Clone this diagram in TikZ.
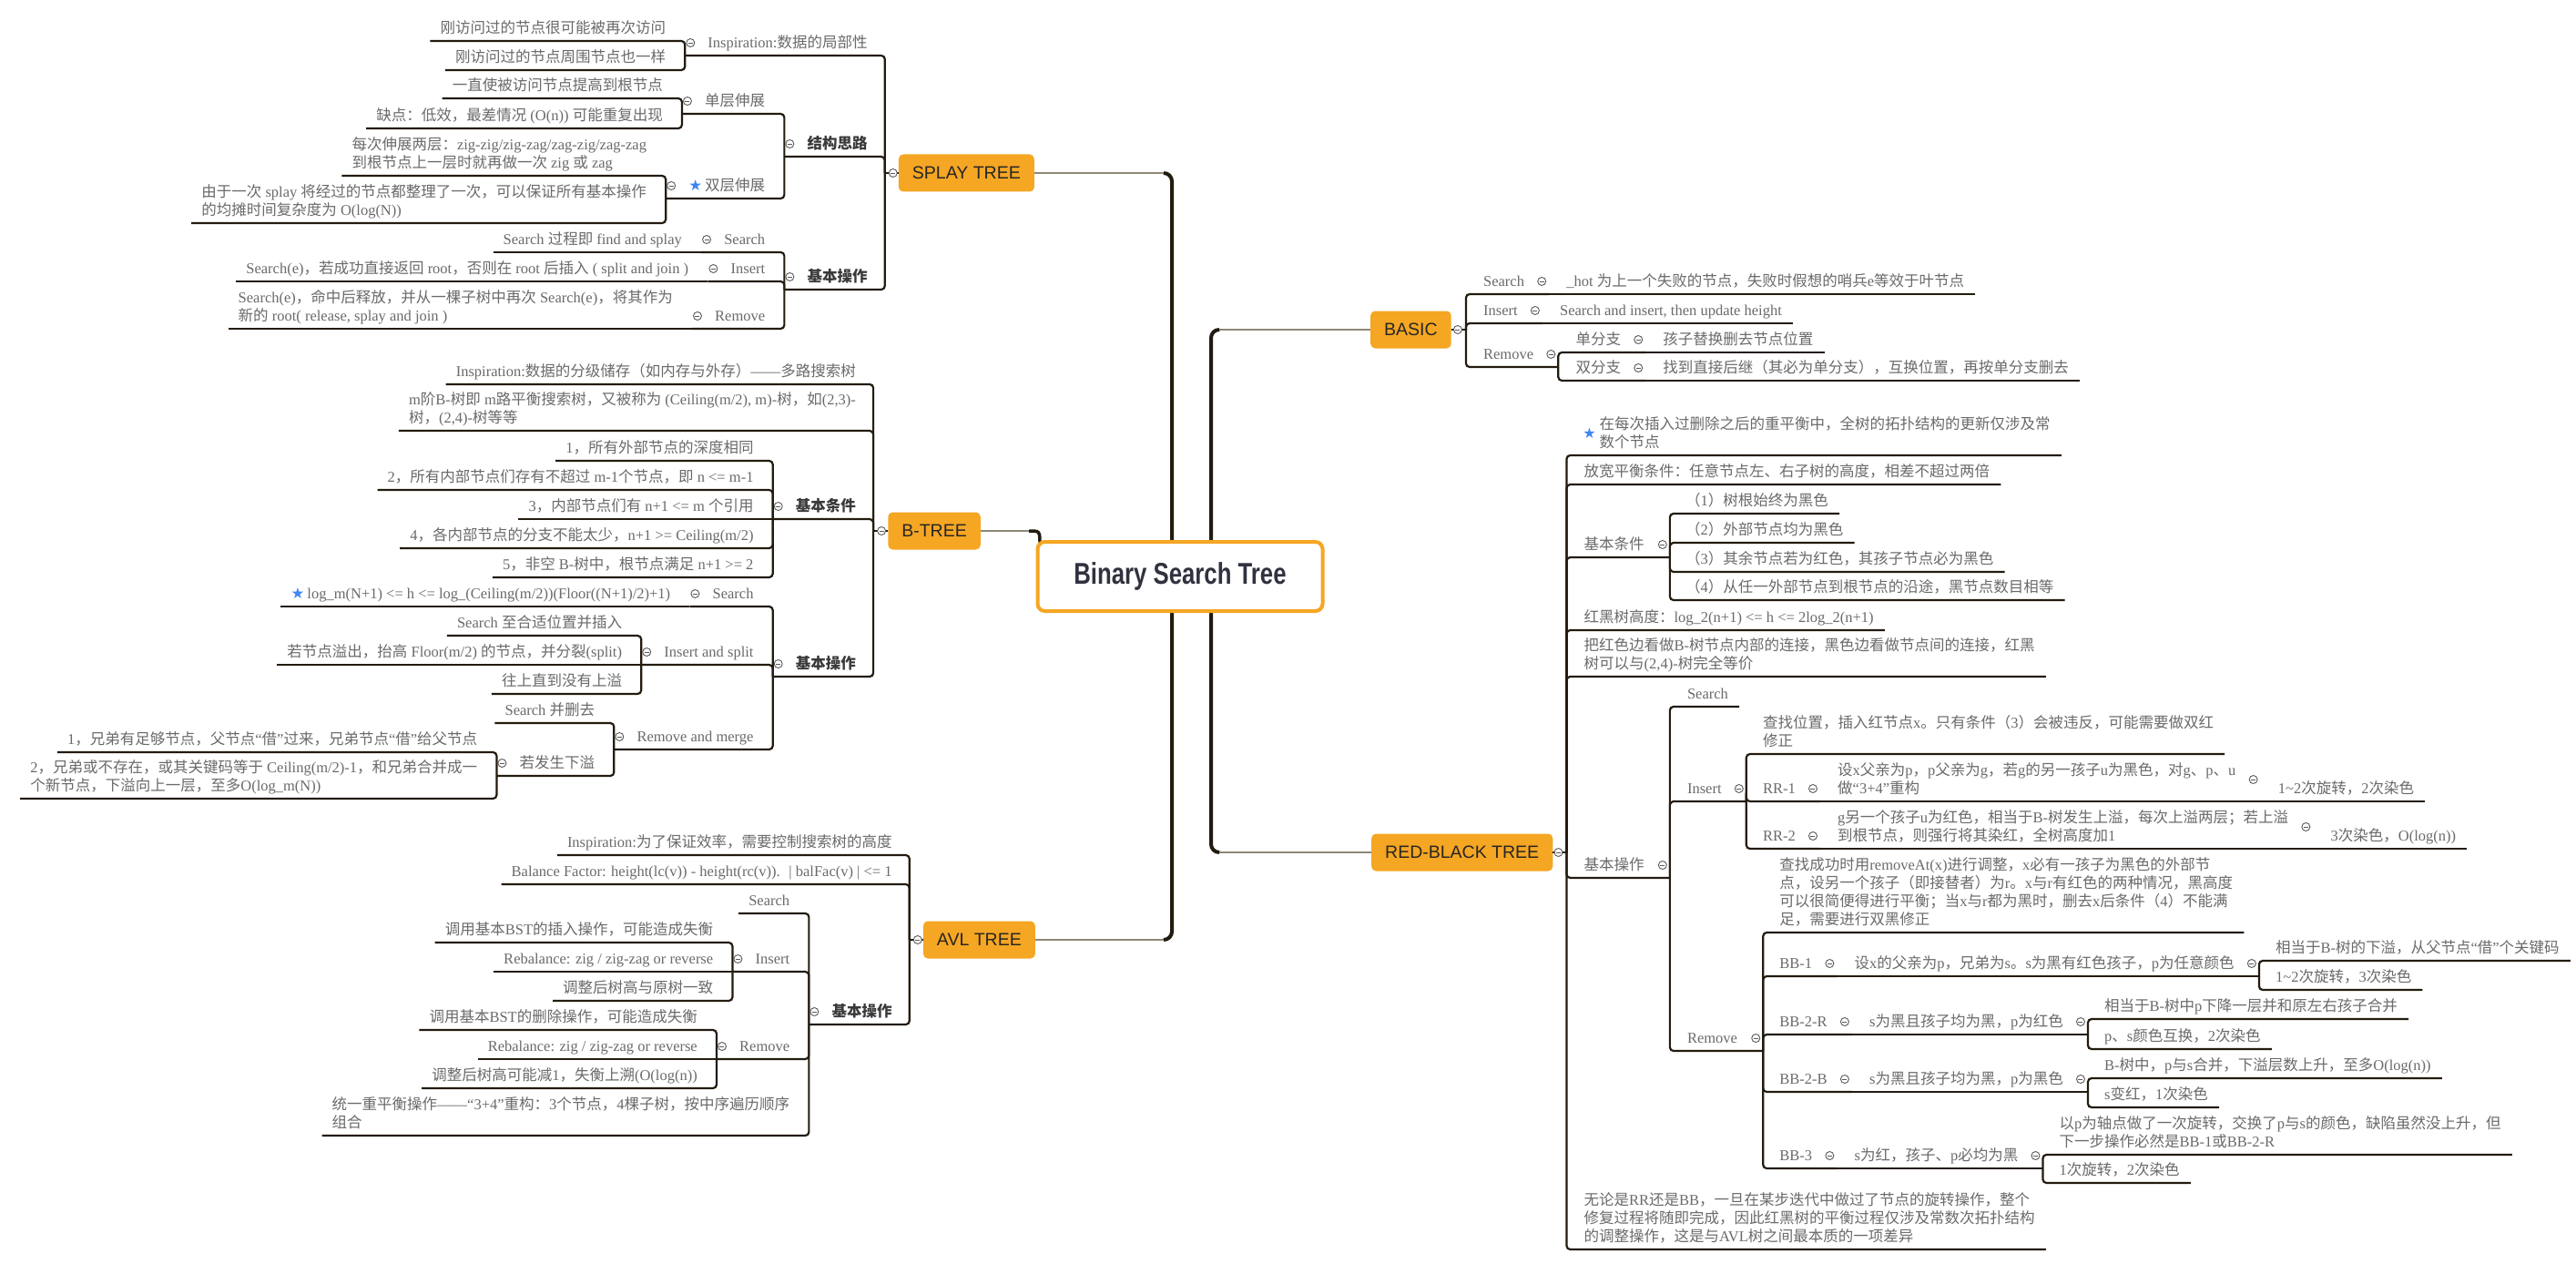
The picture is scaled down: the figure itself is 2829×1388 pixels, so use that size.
\documentclass[tikz,border=0pt]{standalone}
\usepackage{fontspec}
\usepackage{graphicx}
\setmainfont{Liberation Serif}
\newfontfamily\cjkfont{Noto Sans CJK SC}
\newfontfamily\latinfont{Liberation Serif}
\newfontfamily\boxfont{Liberation Sans}
\newfontfamily\symfont{DejaVu Sans}

% CJK characters switch to the CJK family by themselves
\XeTeXinterchartokenstate=1
\newXeTeXintercharclass\cjkclass
\newcount\cjkcount
\newcommand\cjkrange[2]{%
  \cjkcount=#1\relax
  \loop
    \XeTeXcharclass\cjkcount=\cjkclass
    \ifnum\cjkcount<#2\relax
    \advance\cjkcount by 1\relax
  \repeat}
\cjkrange{"3000}{"303F}
\cjkrange{"4E00}{"9FFF}
\cjkrange{"FF00}{"FFEF}
\XeTeXcharclass"2014=0 \XeTeXcharclass"2018=0 \XeTeXcharclass"2019=0
\XeTeXcharclass"201C=0 \XeTeXcharclass"201D=0 \XeTeXcharclass"2605=0
\XeTeXinterchartoks 0 \cjkclass = {\cjkfont}
\XeTeXinterchartoks 4095 \cjkclass = {\cjkfont}
\XeTeXinterchartoks \cjkclass 0 = {\latinfont}
\XeTeXinterchartoks \cjkclass 4095 = {\latinfont}

\definecolor{topicorange}{HTML}{F5A623}
\definecolor{rootnavy}{HTML}{30323F}
\definecolor{txtgray}{HTML}{6A6A6A}
\definecolor{headgray}{HTML}{3A3A3A}
\definecolor{linebrown}{HTML}{231B0F}
\definecolor{twiggray}{HTML}{8E8878}
\definecolor{foldgray}{HTML}{5A5A5A}
\definecolor{starblue}{HTML}{3F86F0}

% underline depth of every topic text
\newcommand\tdp{\rule[-8pt]{0pt}{8pt}}
\newcommand\bstar{{\symfont\color{starblue}★}\hspace{3pt}}

\begin{document}
\begin{tikzpicture}[x=1pt, y=-1pt,
    topic/.style={fill=topicorange, rounded corners=5pt, inner xsep=15pt, inner ysep=0pt, minimum height=41pt, text=black!85, font=\boxfont\fontsize{19.5}{20}\selectfont},
    rootbox/.style={draw=topicorange, line width=4pt, fill=white, rounded corners=8pt, minimum width=313pt, minimum height=76pt, inner sep=0pt, text=rootnavy, font=\boxfont\bfseries\fontsize{33}{33}\selectfont},
    leaf/.style={inner sep=0pt, align=left, text=txtgray, font=\fontsize{16.5}{20}\selectfont},
    strong/.style={leaf, text=headgray, font=\fontsize{16.5}{20}\selectfont\bfseries},
    link/.style={draw=linebrown, line width=2.2pt, rounded corners=4pt},
    twig/.style={draw=twiggray, line width=1.5pt},
    trunk/.style={draw=linebrown, line width=4pt, rounded corners=9pt},
    fold/.style={circle, draw=foldgray, fill=white, line width=0.9pt, minimum size=9pt, inner sep=0pt,
      path picture={\draw[foldgray, line width=0.9pt] ([xshift=2pt]path picture bounding box.west) -- ([xshift=-2pt]path picture bounding box.east);}}
  ]
  \fill[white] (0,0) rectangle (2829,1388);
  \useasboundingbox (0,0) rectangle (2829,1388);

  % Main topics around the root
  \node[topic, anchor=east] (splay) at (1136,190) {SPLAY TREE};
  \node[topic, anchor=east] (btree) at (1077,583) {B-TREE};
  \node[topic, anchor=east] (avl) at (1137,1032) {AVL TREE};
  \node[topic, anchor=west] (basic) at (1505,362) {BASIC};
  \node[topic, anchor=west] (rbtree) at (1506,936) {RED-BLACK TREE};
  \coordinate (splay-b) at ([xshift=-15pt]splay.west);
  \coordinate (btree-b) at ([xshift=-16pt]btree.west);
  \coordinate (avl-b) at ([xshift=-15pt]avl.west);
  \coordinate (basic-b) at ([xshift=16pt]basic.east);
  \coordinate (rbtree-b) at ([xshift=15pt]rbtree.east);

  % Trunks from the root to the main topics
  \coordinate (lbus) at (1287,0);
  \coordinate (rbus) at (1330,0);
  \coordinate (bt-hook) at (1130,583);
  \draw[twig] (splay.east) -- ([xshift=-9pt]lbus |- splay.east);
  \draw[twig] (avl.east) -- ([xshift=-9pt]lbus |- avl.east);
  \draw[trunk] ([xshift=-9pt]lbus |- splay.east) -| (lbus |- avl.east) -- ([xshift=-9pt]lbus |- avl.east);
  \draw[twig] (basic.west) -- ([xshift=9pt]rbus |- basic.west);
  \draw[twig] (rbtree.west) -- ([xshift=9pt]rbus |- rbtree.west);
  \draw[trunk] ([xshift=9pt]rbus |- basic.west) -| (rbus |- rbtree.west) -- ([xshift=9pt]rbus |- rbtree.west);
  \draw[twig] (btree.east) -- (bt-hook);
  \draw[draw=linebrown, line width=3.5pt] (bt-hook) .. controls (1142,583) .. (1142,598);

  % The root
  \node[rootbox] (bst) at (1296,633) {\scalebox{0.78}[1]{Binary Search Tree}};

  % SPLAY TREE
  \node[leaf, anchor=south east] (sp-insp) at ([xshift=-19pt]splay-b |- 0,61) {Inspiration:数据的局部性\tdp};
  \coordinate (sp-insp-b) at ([xshift=-25pt]sp-insp.south west);
  \node[leaf, anchor=south east] (sp-insp-1) at ([xshift=-21pt]sp-insp-b |- 0,45) {刚访问过的节点很可能被再次访问\tdp};
  \node[leaf, anchor=south east] (sp-insp-2) at ([xshift=-21pt]sp-insp-b |- 0,77) {刚访问过的节点周围节点也一样\tdp};
  \node[strong, anchor=south east] (sp-idea) at ([xshift=-19pt]splay-b |- 0,172) {结构思路\tdp};
  \coordinate (sp-idea-b) at ([xshift=-25pt]sp-idea.south west);
  \node[leaf, anchor=south east] (sp-zig) at ([xshift=-21pt]sp-idea-b |- 0,125) {单层伸展\tdp};
  \coordinate (sp-zig-b) at ([xshift=-25pt]sp-zig.south west);
  \node[leaf, anchor=south east] (sp-zig-1) at ([xshift=-21pt]sp-zig-b |- 0,108) {一直使被访问节点提高到根节点\tdp};
  \node[leaf, anchor=south east] (sp-zig-2) at ([xshift=-21pt]sp-zig-b |- 0,141) {缺点：低效，最差情况 (O(n)) 可能重复出现\tdp};
  \node[leaf, anchor=south east] (sp-zz) at ([xshift=-21pt]sp-idea-b |- 0,218) {\bstar 双层伸展\tdp};
  \coordinate (sp-zz-b) at ([xshift=-25pt]sp-zz.south west);
  \node[leaf, anchor=south east] (sp-zz-1) at ([xshift=-21pt]sp-zz-b |- 0,193) {每次伸展两层：zig-zig/zig-zag/zag-zig/zag-zag\\到根节点上一层时就再做一次 zig 或 zag\tdp};
  \node[leaf, anchor=south east] (sp-zz-2) at ([xshift=-21pt]sp-zz-b |- 0,245) {由于一次 splay 将经过的节点都整理了一次，可以保证所有基本操作\\的均摊时间复杂度为 O(log(N))\tdp};
  \node[strong, anchor=south east] (sp-ops) at ([xshift=-19pt]splay-b |- 0,318) {基本操作\tdp};
  \coordinate (sp-ops-b) at ([xshift=-25pt]sp-ops.south west);
  \node[leaf, anchor=south east] (sp-srch) at ([xshift=-21pt]sp-ops-b |- 0,277) {Search\tdp};
  \coordinate (sp-srch-b) at ([xshift=-25pt]sp-srch.south west);
  \node[leaf, anchor=south east] (sp-srch-1) at ([xshift=-21pt]sp-srch-b) {Search 过程即 find and splay\tdp};
  \node[leaf, anchor=south east] (sp-ins) at ([xshift=-21pt]sp-ops-b |- 0,309) {Insert\tdp};
  \coordinate (sp-ins-b) at ([xshift=-25pt]sp-ins.south west);
  \node[leaf, anchor=south east] (sp-ins-1) at ([xshift=-21pt]sp-ins-b) {Search(e)，若成功直接返回 root，否则在 root 后插入 ( split and join )\tdp};
  \node[leaf, anchor=south east] (sp-rem) at ([xshift=-21pt]sp-ops-b |- 0,361) {Remove\tdp};
  \coordinate (sp-rem-b) at ([xshift=-25pt]sp-rem.south west);
  \node[leaf, anchor=south east] (sp-rem-1) at ([xshift=-21pt]sp-rem-b) {Search(e)，命中后释放，并从一棵子树中再次 Search(e)，将其作为\\新的 root( release, splay and join )\tdp};

  % B-TREE
  \node[leaf, anchor=south east] (bt-insp) at ([xshift=-19pt]btree-b |- 0,422) {Inspiration:数据的分级储存（如内存与外存）——多路搜索树\tdp};
  \node[leaf, anchor=south east] (bt-def) at ([xshift=-19pt]btree-b |- 0,473) {m阶B-树即 m路平衡搜索树，又被称为 (Ceiling(m/2), m)-树，如(2,3)-\\树，(2,4)-树等等\tdp};
  \node[strong, anchor=south east] (bt-cond) at ([xshift=-19pt]btree-b |- 0,570) {基本条件\tdp};
  \coordinate (bt-cond-b) at ([xshift=-25pt]bt-cond.south west);
  \node[leaf, anchor=south east] (bt-cond-1) at ([xshift=-21pt]bt-cond-b |- 0,506) {1，所有外部节点的深度相同\tdp};
  \node[leaf, anchor=south east] (bt-cond-2) at ([xshift=-21pt]bt-cond-b |- 0,538) {2，所有内部节点们存有不超过 m-1个节点，即 n <= m-1\tdp};
  \node[leaf, anchor=south east] (bt-cond-3) at ([xshift=-21pt]bt-cond-b |- 0,570) {3，内部节点们有 n+1 <= m 个引用\tdp};
  \node[leaf, anchor=south east] (bt-cond-4) at ([xshift=-21pt]bt-cond-b |- 0,602) {4，各内部节点的分支不能太少，n+1 >= Ceiling(m/2)\tdp};
  \node[leaf, anchor=south east] (bt-cond-5) at ([xshift=-21pt]bt-cond-b |- 0,634) {5，非空 B-树中，根节点满足 n+1 >= 2\tdp};
  \node[strong, anchor=south east] (bt-ops) at ([xshift=-19pt]btree-b |- 0,743) {基本操作\tdp};
  \coordinate (bt-ops-b) at ([xshift=-25pt]bt-ops.south west);
  \node[leaf, anchor=south east] (bt-srch) at ([xshift=-21pt]bt-ops-b |- 0,666) {Search\tdp};
  \coordinate (bt-srch-b) at ([xshift=-25pt]bt-srch.south west);
  \node[leaf, anchor=south east] (bt-srch-1) at ([xshift=-21pt]bt-srch-b) {\bstar log\_m(N+1) <= h <= log\_(Ceiling(m/2))(Floor((N+1)/2)+1)\tdp};
  \node[leaf, anchor=south east] (bt-ins) at ([xshift=-21pt]bt-ops-b |- 0,730) {Insert and split\tdp};
  \coordinate (bt-ins-b) at ([xshift=-25pt]bt-ins.south west);
  \node[leaf, anchor=south east] (bt-ins-1) at ([xshift=-21pt]bt-ins-b |- 0,698) {Search 至合适位置并插入\tdp};
  \node[leaf, anchor=south east] (bt-ins-2) at ([xshift=-21pt]bt-ins-b |- 0,730) {若节点溢出，抬高 Floor(m/2) 的节点，并分裂(split)\tdp};
  \node[leaf, anchor=south east] (bt-ins-3) at ([xshift=-21pt]bt-ins-b |- 0,762) {往上直到没有上溢\tdp};
  \node[leaf, anchor=south east] (bt-rem) at ([xshift=-21pt]bt-ops-b |- 0,823) {Remove and merge\tdp};
  \coordinate (bt-rem-b) at ([xshift=-25pt]bt-rem.south west);
  \node[leaf, anchor=south east] (bt-rem-1) at ([xshift=-21pt]bt-rem-b |- 0,794) {Search 并删去\tdp};
  \node[leaf, anchor=south east] (bt-under) at ([xshift=-21pt]bt-rem-b |- 0,852) {若发生下溢\tdp};
  \coordinate (bt-under-b) at ([xshift=-25pt]bt-under.south west);
  \node[leaf, anchor=south east] (bt-under-1) at ([xshift=-21pt]bt-under-b |- 0,826) {1，兄弟有足够节点，父节点“借”过来，兄弟节点“借”给父节点\tdp};
  \node[leaf, anchor=south east] (bt-under-2) at ([xshift=-21pt]bt-under-b |- 0,877) {2，兄弟或不存在，或其关键码等于 Ceiling(m/2)-1，和兄弟合并成一\\个新节点，下溢向上一层，至多O(log\_m(N))\tdp};

  % AVL TREE
  \node[leaf, anchor=south east] (av-insp) at ([xshift=-19pt]avl-b |- 0,939) {Inspiration:为了保证效率，需要控制搜索树的高度\tdp};
  \node[leaf, anchor=south east] (av-bf) at ([xshift=-19pt]avl-b |- 0,971) {Balance Factor: height(lc(v)) - height(rc(v)).~ | balFac(v) | <= 1\tdp};
  \node[strong, anchor=south east] (av-ops) at ([xshift=-19pt]avl-b |- 0,1125) {基本操作\tdp};
  \coordinate (av-ops-b) at ([xshift=-25pt]av-ops.south west);
  \node[leaf, anchor=south east] (av-srch) at ([xshift=-21pt]av-ops-b |- 0,1003) {Search\tdp};
  \node[leaf, anchor=south east] (av-ins) at ([xshift=-21pt]av-ops-b |- 0,1067) {Insert\tdp};
  \coordinate (av-ins-b) at ([xshift=-25pt]av-ins.south west);
  \node[leaf, anchor=south east] (av-ins-1) at ([xshift=-21pt]av-ins-b |- 0,1035) {调用基本BST的插入操作，可能造成失衡\tdp};
  \node[leaf, anchor=south east] (av-ins-2) at ([xshift=-21pt]av-ins-b |- 0,1067) {Rebalance: zig / zig-zag or reverse\tdp};
  \node[leaf, anchor=south east] (av-ins-3) at ([xshift=-21pt]av-ins-b |- 0,1099) {调整后树高与原树一致\tdp};
  \node[leaf, anchor=south east] (av-rem) at ([xshift=-21pt]av-ops-b |- 0,1163) {Remove\tdp};
  \coordinate (av-rem-b) at ([xshift=-25pt]av-rem.south west);
  \node[leaf, anchor=south east] (av-rem-1) at ([xshift=-21pt]av-rem-b |- 0,1131) {调用基本BST的删除操作，可能造成失衡\tdp};
  \node[leaf, anchor=south east] (av-rem-2) at ([xshift=-21pt]av-rem-b |- 0,1163) {Rebalance: zig / zig-zag or reverse\tdp};
  \node[leaf, anchor=south east] (av-rem-3) at ([xshift=-21pt]av-rem-b |- 0,1195) {调整后树高可能减1，失衡上溯(O(log(n))\tdp};
  \node[leaf, anchor=south east] (av-34) at ([xshift=-21pt]av-ops-b |- 0,1247) {统一重平衡操作——“3+4”重构：3个节点，4棵子树，按中序遍历顺序\\组合\tdp};

  % BASIC
  \node[leaf, anchor=south west] (ba-srch) at ([xshift=19pt]basic-b |- 0,323) {Search\tdp};
  \coordinate (ba-srch-b) at ([xshift=27pt]ba-srch.south east);
  \node[leaf, anchor=south west] (ba-srch-1) at ([xshift=19pt]ba-srch-b) {\_hot 为上一个失败的节点，失败时假想的哨兵e等效于叶节点\tdp};
  \node[leaf, anchor=south west] (ba-ins) at ([xshift=19pt]basic-b |- 0,355) {Insert\tdp};
  \coordinate (ba-ins-b) at ([xshift=27pt]ba-ins.south east);
  \node[leaf, anchor=south west] (ba-ins-1) at ([xshift=19pt]ba-ins-b) {Search and insert, then update height\tdp};
  \node[leaf, anchor=south west] (ba-rem) at ([xshift=19pt]basic-b |- 0,403) {Remove\tdp};
  \coordinate (ba-rem-b) at ([xshift=27pt]ba-rem.south east);
  \node[leaf, anchor=south west] (ba-one) at ([xshift=19pt]ba-rem-b |- 0,387) {单分支\tdp};
  \coordinate (ba-one-b) at ([xshift=27pt]ba-one.south east);
  \node[leaf, anchor=south west] (ba-one-1) at ([xshift=19pt]ba-one-b) {孩子替换删去节点位置\tdp};
  \node[leaf, anchor=south west] (ba-two) at ([xshift=19pt]ba-rem-b |- 0,418) {双分支\tdp};
  \coordinate (ba-two-b) at ([xshift=27pt]ba-two.south east);
  \node[leaf, anchor=south west] (ba-two-1) at ([xshift=19pt]ba-two-b) {找到直接后继（其必为单分支），互换位置，再按单分支删去\tdp};

  % RED-BLACK TREE
  \node[leaf, anchor=south west] (rb-note) at ([xshift=36pt]rbtree-b |- 0,500) {在每次插入过删除之后的重平衡中，全树的拓扑结构的更新仅涉及常\\数个节点\tdp};
  \node[text=starblue, inner sep=0pt, font=\symfont\fontsize{16}{16}\selectfont] (rb-star) at ([xshift=25pt,yshift=24pt]rbtree-b |- rb-note.south) {★};
  \node[leaf, anchor=south west] (rb-relax) at ([xshift=19pt]rbtree-b |- 0,532) {放宽平衡条件：任意节点左、右子树的高度，相差不超过两倍\tdp};
  \node[leaf, anchor=south west] (rb-cond) at ([xshift=19pt]rbtree-b |- 0,612) {基本条件\tdp};
  \coordinate (rb-cond-b) at ([xshift=28pt]rb-cond.south east);
  \node[leaf, anchor=south west] (rb-cond-1) at ([xshift=17pt]rb-cond-b |- 0,564) {（1）树根始终为黑色\tdp};
  \node[leaf, anchor=south west] (rb-cond-2) at ([xshift=17pt]rb-cond-b |- 0,596) {（2）外部节点均为黑色\tdp};
  \node[leaf, anchor=south west] (rb-cond-3) at ([xshift=17pt]rb-cond-b |- 0,628) {（3）其余节点若为红色，其孩子节点必为黑色\tdp};
  \node[leaf, anchor=south west] (rb-cond-4) at ([xshift=17pt]rb-cond-b |- 0,659) {（4）从任一外部节点到根节点的沿途，黑节点数目相等\tdp};
  \node[leaf, anchor=south west] (rb-h) at ([xshift=19pt]rbtree-b |- 0,692) {红黑树高度：log\_2(n+1) <= h <= 2log\_2(n+1)\tdp};
  \node[leaf, anchor=south west] (rb-b24) at ([xshift=19pt]rbtree-b |- 0,743) {把红色边看做B-树节点内部的连接，黑色边看做节点间的连接，红黑\\树可以与(2,4)-树完全等价\tdp};
  \node[leaf, anchor=south west] (rb-ops) at ([xshift=19pt]rbtree-b |- 0,964) {基本操作\tdp};
  \coordinate (rb-ops-b) at ([xshift=28pt]rb-ops.south east);
  \node[leaf, anchor=south west] (rb-srch) at ([xshift=19pt]rb-ops-b |- 0,776) {Search\tdp};
  \node[leaf, anchor=south west] (rb-ins) at ([xshift=19pt]rb-ops-b |- 0,880) {Insert\tdp};
  \coordinate (rb-ins-b) at ([xshift=27pt]rb-ins.south east);
  \node[leaf, anchor=south west] (rb-ins-1) at ([xshift=18pt]rb-ins-b |- 0,828) {查找位置，插入红节点x。只有条件（3）会被违反，可能需要做双红\\修正\tdp};
  \node[leaf, anchor=south west] (rb-rr1) at ([xshift=18pt]rb-ins-b |- 0,880) {RR-1\tdp};
  \coordinate (rb-rr1-b) at ([xshift=27pt]rb-rr1.south east);
  \node[leaf, anchor=south west] (rb-rr1-1) at ([xshift=19pt]rb-rr1-b) {设x父亲为p，p父亲为g，若g的另一孩子u为黑色，对g、p、u\\做“3+4”重构\tdp};
  \coordinate (rb-rr1-1-b) at ([xshift=27pt]rb-rr1-1.south east);
  \node[leaf, anchor=south west] (rb-rr1-2) at ([xshift=19pt]rb-rr1-1-b) {1\textasciitilde 2次旋转，2次染色\tdp};
  \node[leaf, anchor=south west] (rb-rr2) at ([xshift=18pt]rb-ins-b |- 0,932) {RR-2\tdp};
  \coordinate (rb-rr2-b) at ([xshift=27pt]rb-rr2.south east);
  \node[leaf, anchor=south west] (rb-rr2-1) at ([xshift=19pt]rb-rr2-b) {g另一个孩子u为红色，相当于B-树发生上溢，每次上溢两层；若上溢\\到根节点，则强行将其染红，全树高度加1\tdp};
  \coordinate (rb-rr2-1-b) at ([xshift=27pt]rb-rr2-1.south east);
  \node[leaf, anchor=south west] (rb-rr2-2) at ([xshift=19pt]rb-rr2-1-b) {3次染色，O(log(n))\tdp};
  \node[leaf, anchor=south west] (rb-rem) at ([xshift=19pt]rb-ops-b |- 0,1154) {Remove\tdp};
  \coordinate (rb-rem-b) at ([xshift=28pt]rb-rem.south east);
  \node[leaf, anchor=south west] (rb-rem-1) at ([xshift=18pt]rb-rem-b |- 0,1024) {查找成功时用removeAt(x)进行调整，x必有一孩子为黑色的外部节\\点，设另一个孩子（即接替者）为r。x与r有红色的两种情况，黑高度\\可以很简便得进行平衡；当x与r都为黑时，删去x后条件（4）不能满\\足，需要进行双黑修正\tdp};
  \node[leaf, anchor=south west] (rb-bb1) at ([xshift=18pt]rb-rem-b |- 0,1072) {BB-1\tdp};
  \coordinate (rb-bb1-b) at ([xshift=27pt]rb-bb1.south east);
  \node[leaf, anchor=south west] (rb-bb1-1) at ([xshift=19pt]rb-bb1-b) {设x的父亲为p，兄弟为s。s为黑有红色孩子，p为任意颜色\tdp};
  \coordinate (rb-bb1-1-b) at ([xshift=27pt]rb-bb1-1.south east);
  \node[leaf, anchor=south west] (rb-bb1-up) at ([xshift=18pt]rb-bb1-1-b |- 0,1055) {相当于B-树的下溢，从父节点“借”个关键码\tdp};
  \node[leaf, anchor=south west] (rb-bb1-dn) at ([xshift=18pt]rb-bb1-1-b |- 0,1087) {1\textasciitilde 2次旋转，3次染色\tdp};
  \node[leaf, anchor=south west] (rb-bb2r) at ([xshift=18pt]rb-rem-b |- 0,1136) {BB-2-R\tdp};
  \coordinate (rb-bb2r-b) at ([xshift=27pt]rb-bb2r.south east);
  \node[leaf, anchor=south west] (rb-bb2r-1) at ([xshift=19pt]rb-bb2r-b) {s为黑且孩子均为黑，p为红色\tdp};
  \coordinate (rb-bb2r-1-b) at ([xshift=27pt]rb-bb2r-1.south east);
  \node[leaf, anchor=south west] (rb-bb2r-up) at ([xshift=18pt]rb-bb2r-1-b |- 0,1119) {相当于B-树中p下降一层并和原左右孩子合并\tdp};
  \node[leaf, anchor=south west] (rb-bb2r-dn) at ([xshift=18pt]rb-bb2r-1-b |- 0,1152) {p、s颜色互换，2次染色\tdp};
  \node[leaf, anchor=south west] (rb-bb2b) at ([xshift=18pt]rb-rem-b |- 0,1199) {BB-2-B\tdp};
  \coordinate (rb-bb2b-b) at ([xshift=27pt]rb-bb2b.south east);
  \node[leaf, anchor=south west] (rb-bb2b-1) at ([xshift=19pt]rb-bb2b-b) {s为黑且孩子均为黑，p为黑色\tdp};
  \coordinate (rb-bb2b-1-b) at ([xshift=27pt]rb-bb2b-1.south east);
  \node[leaf, anchor=south west] (rb-bb2b-up) at ([xshift=18pt]rb-bb2b-1-b |- 0,1184) {B-树中，p与s合并，下溢层数上升，至多O(log(n))\tdp};
  \node[leaf, anchor=south west] (rb-bb2b-dn) at ([xshift=18pt]rb-bb2b-1-b |- 0,1216) {s变红，1次染色\tdp};
  \node[leaf, anchor=south west] (rb-bb3) at ([xshift=18pt]rb-rem-b |- 0,1283) {BB-3\tdp};
  \coordinate (rb-bb3-b) at ([xshift=27pt]rb-bb3.south east);
  \node[leaf, anchor=south west] (rb-bb3-1) at ([xshift=19pt]rb-bb3-b) {s为红，孩子、p必均为黑\tdp};
  \coordinate (rb-bb3-1-b) at ([xshift=27pt]rb-bb3-1.south east);
  \node[leaf, anchor=south west] (rb-bb3-up) at ([xshift=18pt]rb-bb3-1-b |- 0,1268) {以p为轴点做了一次旋转，交换了p与s的颜色，缺陷虽然没上升，但\\下一步操作必然是BB-1或BB-2-R\tdp};
  \node[leaf, anchor=south west] (rb-bb3-dn) at ([xshift=18pt]rb-bb3-1-b |- 0,1299) {1次旋转，2次染色\tdp};
  \node[leaf, anchor=south west] (rb-last) at ([xshift=19pt]rbtree-b |- 0,1372) {无论是RR还是BB，一旦在某步迭代中做过了节点的旋转操作，整个\\修复过程将随即完成，因此红黑树的平衡过程仅涉及常数次拓扑结构\\的调整操作，这是与AVL树之间最本质的一项差异\tdp};

  % Underlines and brackets, left side
  \foreach \c/\p in {sp-insp-1/sp-insp, sp-insp-2/sp-insp, sp-zig-1/sp-zig, sp-zig-2/sp-zig, sp-zz-1/sp-zz, sp-zz-2/sp-zz,
      bt-insp/btree, bt-def/btree, bt-cond-1/bt-cond, bt-cond-2/bt-cond, bt-cond-4/bt-cond, bt-cond-5/bt-cond,
      bt-ins-1/bt-ins, bt-ins-3/bt-ins, bt-rem-1/bt-rem, bt-under-1/bt-under, bt-under-2/bt-under,
      av-insp/avl, av-bf/avl, av-srch/av-ops, av-34/av-ops, av-ins-1/av-ins, av-ins-3/av-ins, av-rem-1/av-rem, av-rem-3/av-rem}
    \draw[link] ([xshift=-11pt]\c.south west) -- (\c.south -| \p-b) -- (\p-b);
  \foreach \c/\p in {sp-srch-1/sp-srch, sp-ins-1/sp-ins, sp-rem-1/sp-rem, bt-cond-3/bt-cond, bt-srch-1/bt-srch,
      bt-ins-2/bt-ins, av-ins-2/av-ins, av-rem-2/av-rem}
    \draw[link] ([xshift=-11pt]\c.south west) -- (\p-b);
  \foreach \c/\p in {sp-insp/splay, sp-idea/splay, sp-ops/splay, sp-zig/sp-idea, sp-zz/sp-idea, sp-srch/sp-ops, sp-ins/sp-ops,
      sp-rem/sp-ops, bt-cond/btree, bt-ops/btree, bt-srch/bt-ops, bt-ins/bt-ops, bt-rem/bt-ops, bt-under/bt-rem,
      av-ops/avl, av-ins/av-ops, av-rem/av-ops}
    \draw[link] (\c-b) -- (\c.south -| \p-b) -- (\p-b);

  % Underlines and brackets, right side
  \foreach \c/\p in {rb-note/rbtree, rb-relax/rbtree, rb-h/rbtree, rb-b24/rbtree, rb-last/rbtree,
      rb-cond-1/rb-cond, rb-cond-2/rb-cond, rb-cond-3/rb-cond, rb-cond-4/rb-cond, rb-srch/rb-ops, rb-ins-1/rb-ins,
      rb-rem-1/rb-rem, rb-bb1-up/rb-bb1-1, rb-bb1-dn/rb-bb1-1, rb-bb2r-up/rb-bb2r-1, rb-bb2r-dn/rb-bb2r-1,
      rb-bb2b-up/rb-bb2b-1, rb-bb2b-dn/rb-bb2b-1, rb-bb3-up/rb-bb3-1, rb-bb3-dn/rb-bb3-1}
    \draw[link] ([xshift=12pt]\c.south east) -- (\c.south -| \p-b) -- (\p-b);
  \foreach \c/\p in {ba-srch-1/ba-srch, ba-ins-1/ba-ins, ba-one-1/ba-one, ba-two-1/ba-two, rb-rr1-2/rb-rr1-1, rb-rr2-2/rb-rr2-1}
    \draw[link] ([xshift=12pt]\c.south east) -- (\p-b);
  \foreach \c/\p in {ba-srch/basic, ba-ins/basic, ba-rem/basic, ba-one/ba-rem, ba-two/ba-rem, rb-cond/rbtree, rb-ops/rbtree,
      rb-ins/rb-ops, rb-rem/rb-ops, rb-rr1/rb-ins, rb-rr2/rb-ins, rb-bb1/rb-rem, rb-bb2r/rb-rem, rb-bb2b/rb-rem, rb-bb3/rb-rem}
    \draw[link] (\c-b) -- (\c.south -| \p-b) -- (\p-b);
  \foreach \c/\p in {rb-rr1-1/rb-rr1, rb-rr2-1/rb-rr2, rb-bb1-1/rb-bb1, rb-bb2r-1/rb-bb2r, rb-bb2b-1/rb-bb2b, rb-bb3-1/rb-bb3}
    \draw[link] (\c-b) -- (\p-b);
  \foreach \p in {splay, btree, avl} \draw[link] (\p-b) -- (\p.west);
  \foreach \p in {basic, rbtree} \draw[link] (\p-b) -- (\p.east);

  % Collapse markers
  \foreach \p in {splay, btree, avl} \node[fold] (\p-f) at ([xshift=9pt]\p-b) {};
  \foreach \p in {basic, rbtree} \node[fold] (\p-f) at ([xshift=-9pt]\p-b) {};
  \foreach \p in {sp-insp, sp-idea, sp-zig, sp-zz, sp-ops, sp-srch, sp-ins, sp-rem, bt-cond, bt-ops, bt-srch, bt-ins,
      bt-rem, bt-under, av-ops, av-ins, av-rem}
    \node[fold] (\p-f) at ([xshift=6pt,yshift=14pt]\p-b) {};
  \foreach \p in {ba-srch, ba-ins, ba-rem, ba-one, ba-two, rb-cond, rb-ops, rb-ins, rb-rem, rb-rr1, rb-rr2,
      rb-bb1, rb-bb1-1, rb-bb2r, rb-bb2r-1, rb-bb2b, rb-bb2b-1, rb-bb3, rb-bb3-1}
    \node[fold] (\p-f) at ([xshift=-8pt,yshift=14pt]\p-b) {};
  \foreach \p in {rb-rr1-1, rb-rr2-1} \node[fold] (\p-f) at ([xshift=-8pt,yshift=24pt]\p-b) {};

\end{tikzpicture}
\end{document}
